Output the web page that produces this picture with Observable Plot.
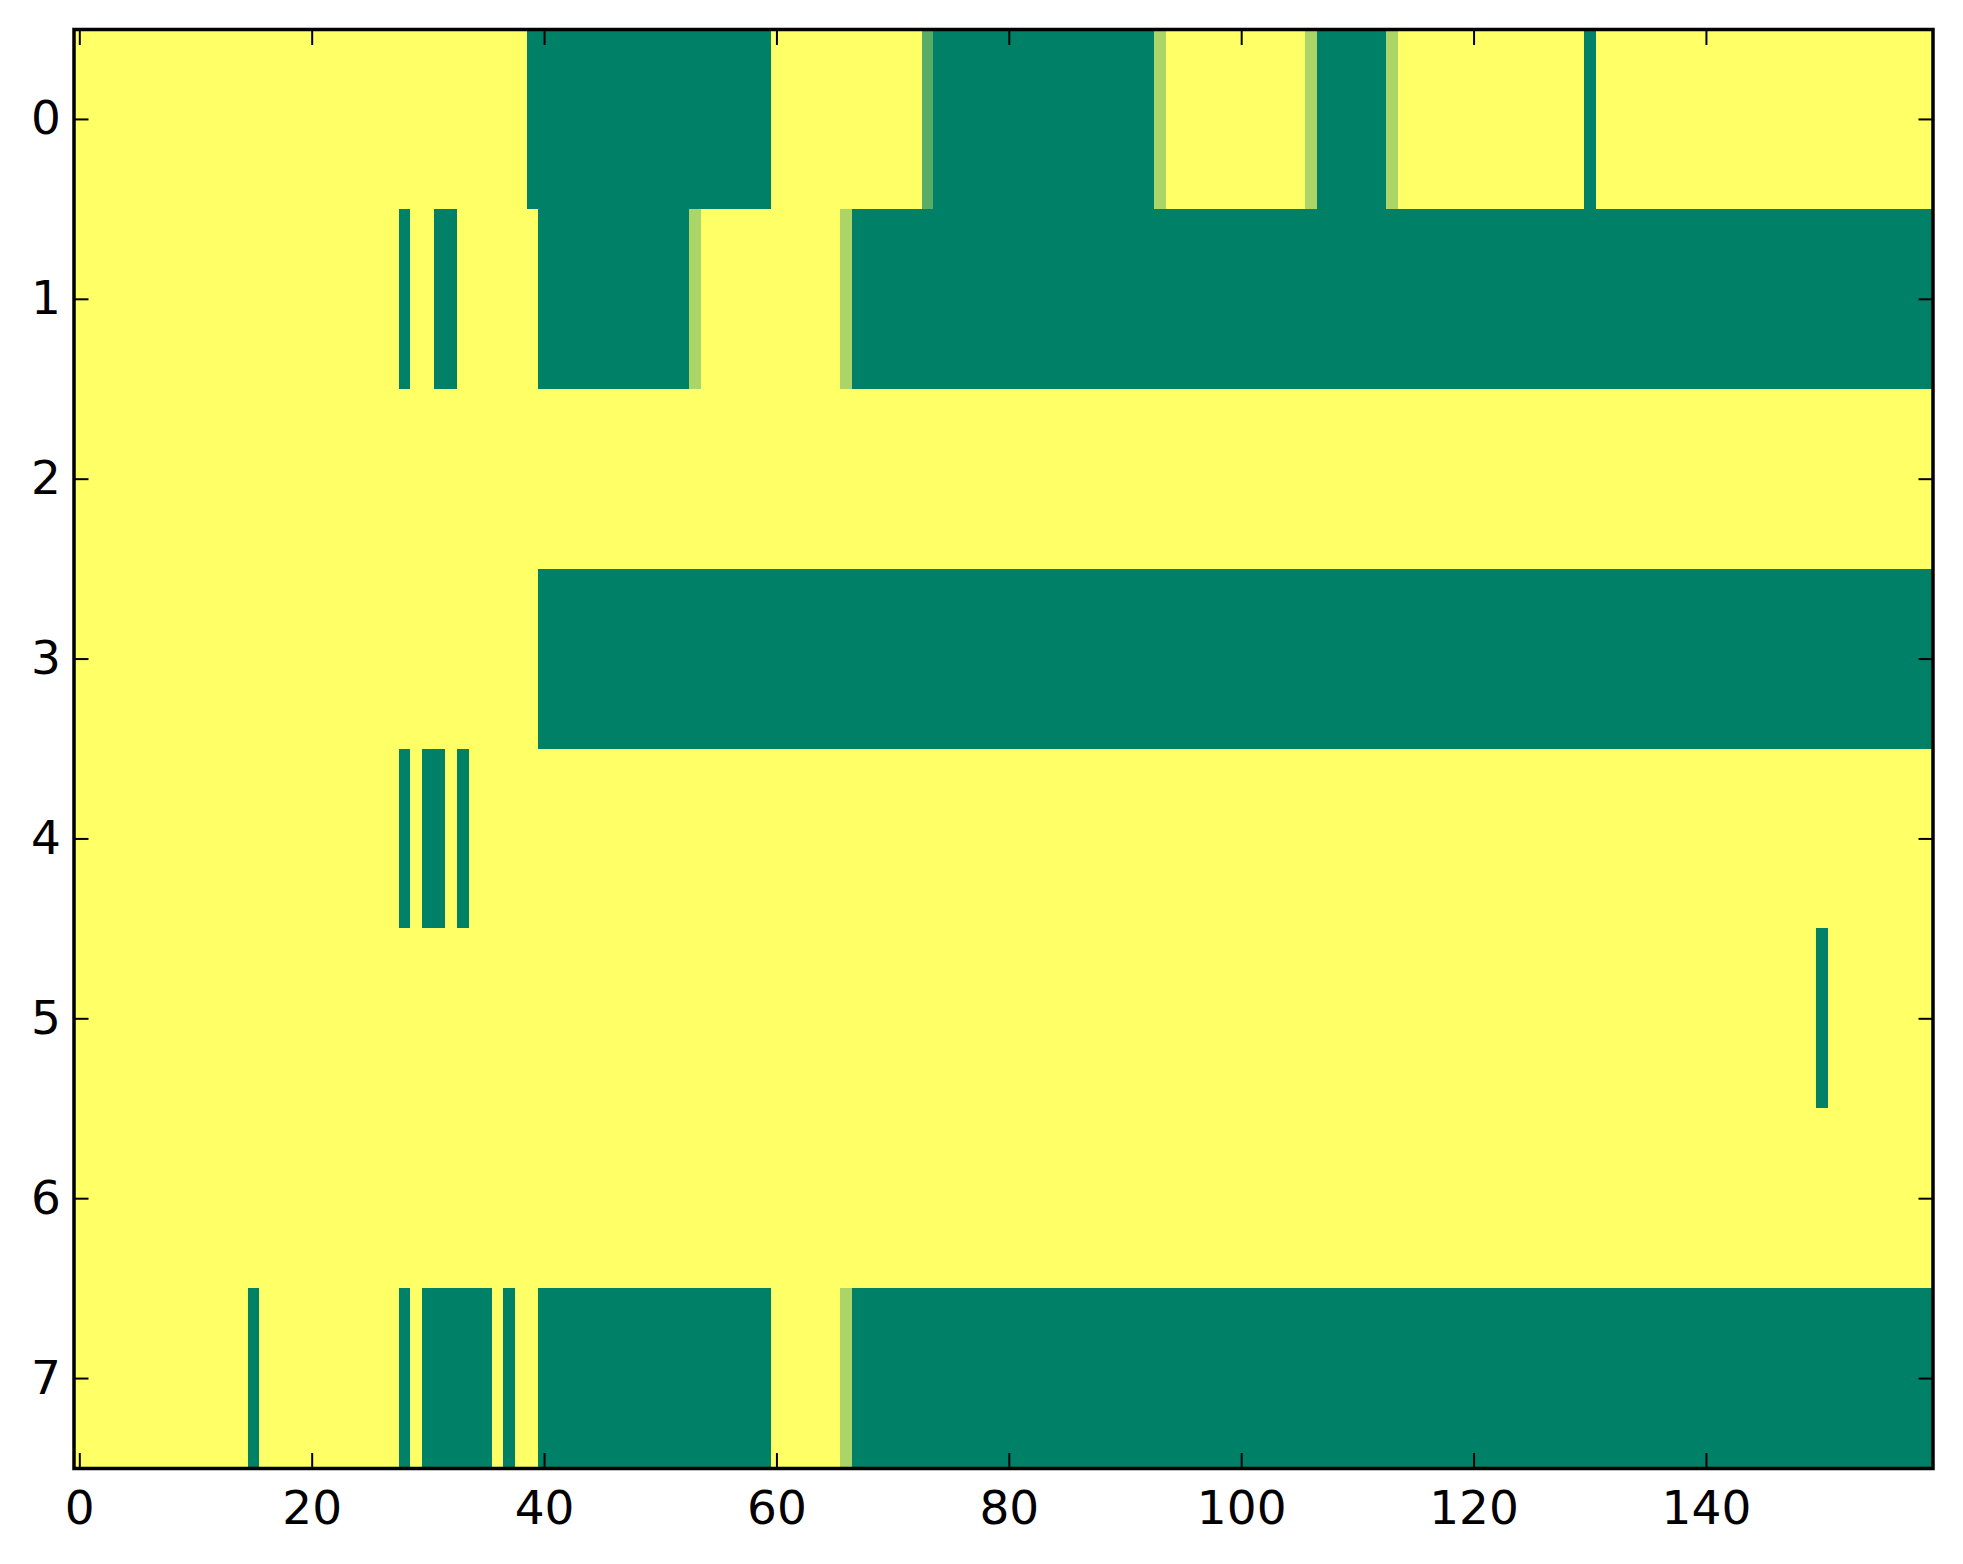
<!DOCTYPE html>
<html>
<head>
<meta charset="utf-8">
<script src="https://cdn.jsdelivr.net/npm/d3@7"></script>
<script src="https://cdn.jsdelivr.net/npm/@observablehq/plot@0.6"></script>
<style>
body { margin: 0; background: #fff; }
</style>
</head>
<body>
<div id="chart"></div>
<script>
// each row as runs of [first column, last column, value]
const row0 = [[0, 38, 1], [39, 59, 0], [60, 72, 1], [73, 73, 0.35], [74, 92, 0], [93, 93, 0.67], [94, 105, 1], [106, 106, 0.67], [107, 112, 0], [113, 113, 0.67], [114, 129, 1], [130, 130, 0], [131, 159, 1]]
const row1 = [[0, 27, 1], [28, 28, 0], [29, 30, 1], [31, 32, 0], [33, 39, 1], [40, 52, 0], [53, 53, 0.67], [54, 65, 1], [66, 66, 0.67], [67, 159, 0]]
const row2 = [[0, 159, 1]]
const row3 = [[0, 39, 1], [40, 159, 0]]
const row4 = [[0, 27, 1], [28, 28, 0], [29, 29, 1], [30, 31, 0], [32, 32, 1], [33, 33, 0], [34, 159, 1]]
const row5 = [[0, 149, 1], [150, 150, 0], [151, 159, 1]]
const row6 = [[0, 159, 1]]
const row7 = [[0, 14, 1], [15, 15, 0], [16, 27, 1], [28, 28, 0], [29, 29, 1], [30, 35, 0], [36, 36, 1], [37, 37, 0], [38, 39, 1], [40, 59, 0], [60, 65, 1], [66, 66, 0.67], [67, 159, 0]]
const rows = [row0, row1, row2, row3, row4, row5, row6, row7]

const xTicks = [0, 20, 40, 60, 80, 100, 120, 140]
const yTicks = [0, 1, 2, 3, 4, 5, 6, 7]

const cells = rows.flatMap((runs, r) =>
    runs.map(([from, to, value]) => ({row: r, from, to, value})))

const chart = Plot.plot({
    width: 1963,
    height: 1564,
    marginLeft: 73.5,
    marginRight: 30.5,
    marginTop: 29,
    marginBottom: 96,
    style: {fontFamily: "DejaVu Sans", fontSize: "47px", color: "black", background: "white"},
    x: {domain: [-0.5, 159.5]},
    y: {domain: [7.5, -0.5]},
    color: {type: "linear", domain: [0, 1], range: ["#008066", "#ffff66"], interpolate: "rgb"},
    marks: [
        Plot.rect(cells, {
            x1: d => d.from - 0.5, x2: d => d.to + 0.5,
            y1: d => d.row - 0.5, y2: d => d.row + 0.5,
            fill: "value", shapeRendering: "crispEdges"
        }),
        // matplotlib-style ticks pointing inward on all four sides
        Plot.axisX(xTicks, {anchor: "bottom", tickSize: -15, tickPadding: 37, tickFormat: d => String(d), strokeWidth: 2, label: null}),
        Plot.axisX(xTicks, {anchor: "top", tickSize: -15, tickFormat: () => "", strokeWidth: 2, label: null}),
        Plot.axisY(yTicks, {anchor: "left", tickSize: -15, tickPadding: 28, tickFormat: d => String(d), strokeWidth: 2, label: null}),
        Plot.axisY(yTicks, {anchor: "right", tickSize: -15, tickFormat: () => "", strokeWidth: 2, label: null}),
        Plot.frame({stroke: "black", strokeWidth: 3.5})
    ]
})

d3.select("#chart").append(() => chart)
</script>
</body>
</html>
